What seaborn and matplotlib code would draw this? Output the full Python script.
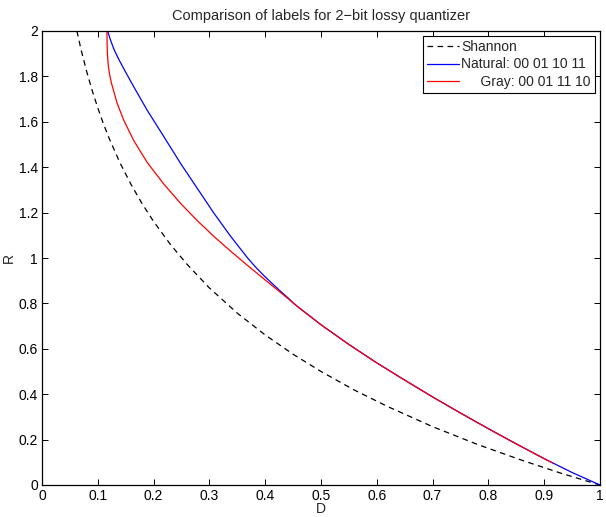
import matplotlib
matplotlib.use("Agg")
import matplotlib.pyplot as plt
import seaborn as sns
import pandas as pd
from matplotlib.lines import Line2D

# ---- data ----
shannon_D = [0.0625, 0.07, 0.08, 0.09, 0.10, 0.11, 0.12, 0.14, 0.16, 0.18, 0.20, 0.23, 0.26,
             0.30, 0.35, 0.40, 0.45, 0.50, 0.56, 0.62, 0.70, 0.78, 0.86, 0.93, 1.00]
shannon_R = [2.000, 1.918, 1.822, 1.737, 1.661, 1.592, 1.529, 1.418, 1.322, 1.237, 1.161, 1.060, 0.972,
             0.868, 0.757, 0.661, 0.576, 0.500, 0.418, 0.345, 0.257, 0.179, 0.109, 0.052, 0.000]

natural_D = [0.1176, 0.1225, 0.1285, 0.137, 0.1465, 0.1645, 0.1885, 0.2185, 0.2485, 0.2785,
             0.3085, 0.3385, 0.3685, 0.3835, 0.3986, 0.4136, 0.4286, 0.44, 0.45, 0.46,
             0.50, 0.55, 0.60, 0.65, 0.70, 0.75, 0.80, 0.85, 0.90, 0.95, 1.00]
natural_R = [2.000, 1.962, 1.922, 1.878, 1.834, 1.754, 1.651, 1.534, 1.416, 1.306,
             1.196, 1.094, 1.000, 0.958, 0.920, 0.885, 0.851, 0.826, 0.803, 0.782,
             0.706, 0.619, 0.538, 0.462, 0.388, 0.317, 0.248, 0.181, 0.116, 0.055, 0.000]

gray_D = [0.1164, 0.1166, 0.1172, 0.1187, 0.121, 0.1245, 0.1345, 0.1465, 0.1645, 0.1885,
          0.2185, 0.2485, 0.2785, 0.3085, 0.3385, 0.3685, 0.3986, 0.4286, 0.44, 0.45, 0.46,
          0.50, 0.55, 0.60, 0.65, 0.70, 0.75, 0.80, 0.85, 0.90, 0.915]
gray_R = [2.000, 1.950, 1.900, 1.850, 1.810, 1.770, 1.683, 1.607, 1.517, 1.421,
          1.325, 1.240, 1.164, 1.094, 1.029, 0.967, 0.906, 0.846, 0.823, 0.802, 0.782,
          0.706, 0.619, 0.538, 0.462, 0.388, 0.317, 0.248, 0.181, 0.116, 0.097]

labels = ["Shannon", "Natural: 00 01 10 11", "     Gray: 00 01 11 10"]
x_ticks = [0, 0.1, 0.2, 0.3, 0.4, 0.5, 0.6, 0.7, 0.8, 0.9, 1]
x_tick_labels = ["0", "0.1", "0.2", "0.3", "0.4", "0.5", "0.6", "0.7", "0.8", "0.9", "1"]
y_ticks = [0, 0.2, 0.4, 0.6, 0.8, 1.0, 1.2, 1.4, 1.6, 1.8, 2.0]
y_tick_labels = ["0", "0.2", "0.4", "0.6", "0.8", "1", "1.2", "1.4", "1.6", "1.8", "2"]

# ---- styling ----
sns.set_theme(style="ticks")
plt.rcParams["font.family"] = ["Liberation Sans", "DejaVu Sans"]
plt.rcParams["xtick.direction"] = "in"
plt.rcParams["ytick.direction"] = "in"

fig = plt.figure(figsize=(6.06, 5.17), dpi=100)
ax = fig.add_axes([42 / 606, 32 / 517, 558 / 606, 454 / 517])

df_s = pd.DataFrame({"D": shannon_D, "R": shannon_R})
df_n = pd.DataFrame({"D": natural_D, "R": natural_R})
df_g = pd.DataFrame({"D": gray_D, "R": gray_R})

lw = 0.9
sns.lineplot(data=df_s, x="D", y="R", ax=ax, color="black", lw=lw,
             estimator=None, sort=False)
ax.lines[-1].set_dashes((4.5, 3.5))
sns.lineplot(data=df_n, x="D", y="R", ax=ax, color="#0000ff", lw=lw,
             estimator=None, sort=False)
sns.lineplot(data=df_g, x="D", y="R", ax=ax, color="#ff0000", lw=lw,
             estimator=None, sort=False)

ax.set_xlim(0, 1)
ax.set_ylim(0, 2)
ax.set_xticks(x_ticks)
ax.set_xticklabels(x_tick_labels)
ax.set_yticks(y_ticks)
ax.set_yticklabels(y_tick_labels)
ax.tick_params(axis="both", which="both", direction="in", length=4, width=0.7,
               top=True, right=True, labelsize=10, colors="black")
ax.tick_params(axis="x", pad=3)
ax.tick_params(axis="y", pad=3)
for sp in ax.spines.values():
    sp.set_visible(True)
    sp.set_linewidth(0.9)
    sp.set_color("black")

ax.set_xlabel("D", fontsize=10)
ax.xaxis.set_label_coords(0.5, -17 / 454)
ax.set_ylabel("R", fontsize=10, labelpad=2)
ax.set_title("Comparison of labels for 2\u2212bit lossy quantizer", fontsize=10.5, pad=8)

handles = [Line2D([], [], color="black", lw=lw, dashes=(4.5, 3.5)),
           Line2D([], [], color="#0000ff", lw=lw),
           Line2D([], [], color="#ff0000", lw=lw)]
leg = ax.legend(handles, labels, loc="upper right", fontsize=10, frameon=True,
                fancybox=False, edgecolor="black", framealpha=1,
                handlelength=2.3, handletextpad=0.15, borderpad=0.3,
                labelspacing=0.25, borderaxespad=0.35)
leg.get_frame().set_linewidth(0.8)

fig.savefig("out.png", dpi=100)
